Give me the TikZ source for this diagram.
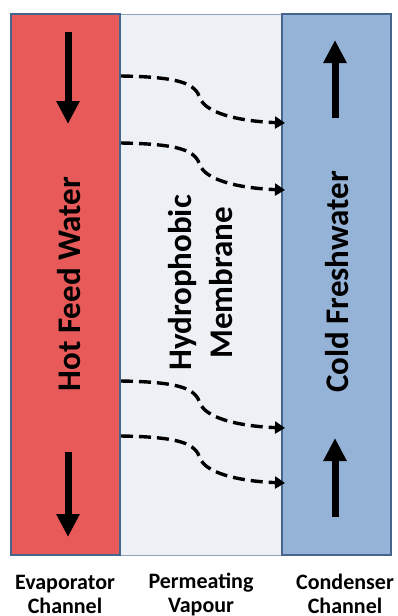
\documentclass[tikz,border=0pt]{standalone}
\usepackage{fontspec}
\setmainfont{Carlito}
\usetikzlibrary{arrows.meta}
\definecolor{hotred}{RGB}{232,90,90}
\definecolor{coldblue}{RGB}{149,179,215}
\definecolor{membr}{RGB}{237,241,246}
\definecolor{edge}{RGB}{70,100,140}
\tikzset{
  chan/.style={draw=edge, line width=1.6pt},
  flow/.style={line width=7pt, -{Triangle[width=22pt,length=23pt]}},
  vap/.style={line width=3.4pt, dash pattern=on 12pt off 6pt, -{Triangle[width=12pt,length=10pt]}},
  bigtxt/.style={font=\bfseries\fontsize{33}{41}\selectfont, rotate=90, align=center},
  captxt/.style={font=\bfseries\fontsize{22}{24}\selectfont, align=center}
}
\begin{document}
\begin{tikzpicture}[x=1pt,y=-1pt]
\useasboundingbox (0,0) rectangle (398,616);
\fill[white] (0,0) rectangle (398,616);
% channels
\path[fill=membr, draw=edge!60, line width=1pt] (120,14) rectangle (282,555);
\path[chan, fill=hotred] (11,14) rectangle (120,555);
\path[chan, fill=coldblue] (282,14) rectangle (391,555);
% flow arrows
\coordinate (r1s) at (68,32); \coordinate (r1e) at (68,124);
\coordinate (r2s) at (68,452); \coordinate (r2e) at (68,537);
\coordinate (b1s) at (335,118); \coordinate (b1e) at (335,40);
\coordinate (b2s) at (335,517); \coordinate (b2e) at (335,438);
\draw[flow] (r1s) -- (r1e);
\draw[flow] (r2s) -- (r2e);
\draw[flow] (b1s) -- (b1e);
\draw[flow] (b2s) -- (b2e);
% vapour paths
\foreach \dy/\n in {0/a,67/b,305/c,360/d}{
  \coordinate (vs\n) at (121,76+\dy);
  \coordinate (ve\n) at (285,123+\dy);
  \draw[vap] (vs\n) .. controls (182,77+\dy) and (195,84+\dy) .. (200,98+\dy)
    .. controls (205,112+\dy) and (235,121+\dy) .. (ve\n);
}
% texts
\node[bigtxt] (hot) at (69,284) {Hot Feed Water};
\node[bigtxt] (cold) at (337,282) {Cold Freshwater};
\node[bigtxt] (mem) at (201,283) {Hydrophobic\\Membrane};
\node[captxt] (evap) at (65,594) {Evaporator\\Channel};
\node[captxt] (perm) at (201,594) {Permeating\\Vapour};
\node[captxt] (cond) at (345,594) {Condenser\\Channel};
\end{tikzpicture}
\end{document}
